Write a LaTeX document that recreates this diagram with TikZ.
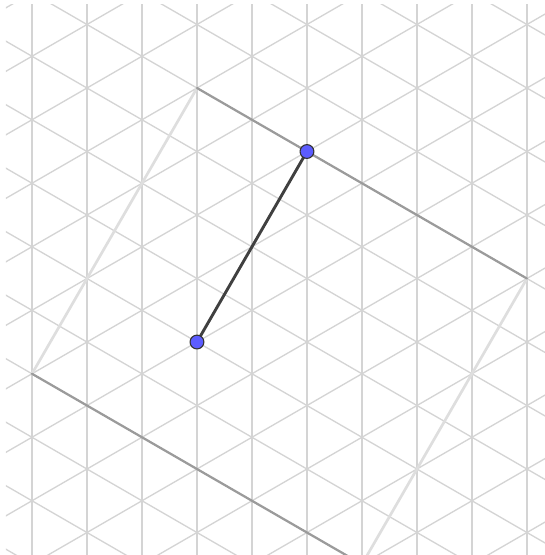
\documentclass[tikz,border=0pt]{standalone}
\usepackage{tikz}
\definecolor{gridgray}{RGB}{212,212,212}
\definecolor{edgedark}{RGB}{155,155,155}
\definecolor{edgelight}{RGB}{222,222,222}
\definecolor{segdark}{RGB}{64,64,64}
\definecolor{ptblue}{RGB}{92,92,255}
\begin{document}
\begin{tikzpicture}[line join=round, line cap=round]
			\useasboundingbox (-3.102,-3.354) rectangle (5.480,5.386);
			
			\begin{scope}
				\clip (-3.008,-3.354) rectangle (5.480,5.323);
				\foreach \k in {-3,...,6}
					\draw[gridgray, line width=0.6pt] ({\k*0.8660254},-4) -- ({\k*0.8660254},6);
				\foreach \m in {-12,...,14} {
					\draw[gridgray, line width=0.6pt] (-4,{\m-4/sqrt(3)}) -- (6,{\m+6/sqrt(3)});
					\draw[gridgray, line width=0.6pt] (-4,{\m+4/sqrt(3)}) -- (6,{\m-6/sqrt(3)});
				}
			\end{scope}
			
			\coordinate (A) at (0,0);
			\coordinate (B) at ({2*0.8660254},3);
			\coordinate (P) at (0,4);
			\coordinate (Q) at ({6*0.8660254},1);
			\coordinate (R) at ({-3*0.8660254},-0.5);
			\coordinate (S) at ({3*0.8660254},-3.5);
			
			\begin{scope}
				\clip (-3.102,-3.354) rectangle (5.480,5.386);
				\draw[edgelight, line width=1.2pt] (R) -- (P);
				\draw[edgelight, line width=1.2pt] (Q) -- (S);
				\draw[edgedark, line width=1pt] (P) -- (Q);
				\draw[edgedark, line width=1pt] (R) -- (S);
			\end{scope}
			
			\draw[segdark, line width=1.3pt] (A) -- (B);
			
			\filldraw[fill=ptblue, draw=black!80, line width=0.5pt] (A) circle (3.1pt);
			\filldraw[fill=ptblue, draw=black!80, line width=0.5pt] (B) circle (3.1pt);
		\end{tikzpicture}
\end{document}
